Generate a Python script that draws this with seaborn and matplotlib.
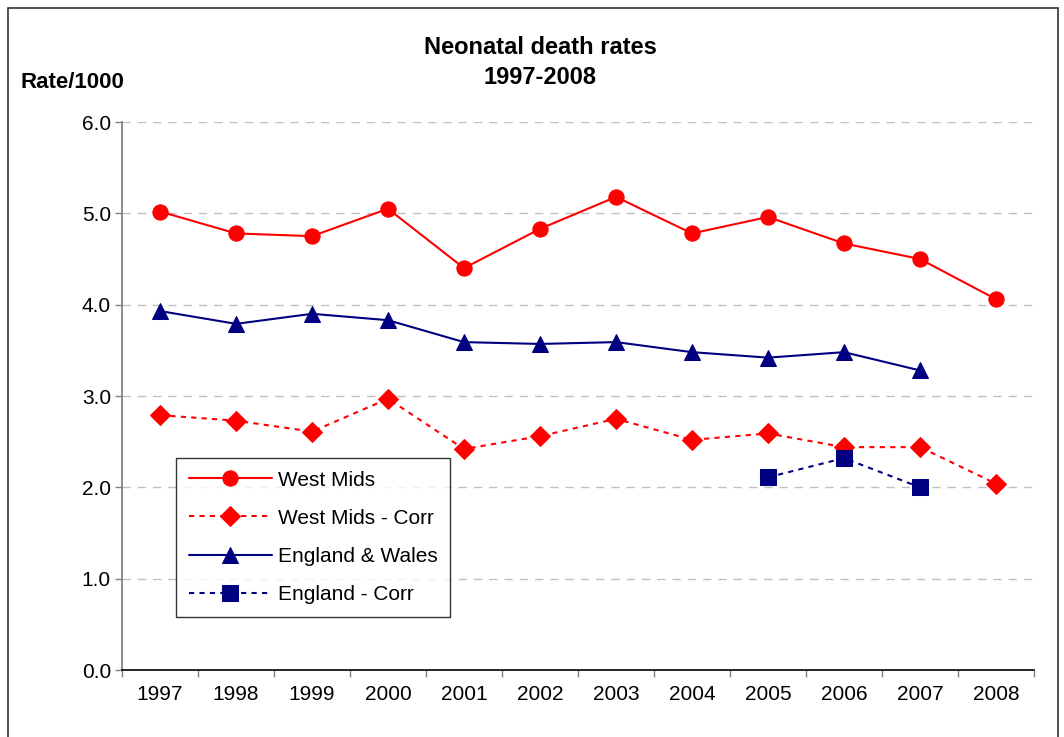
import numpy as np
import pandas as pd
import matplotlib
matplotlib.use('Agg')
import matplotlib.pyplot as plt
import seaborn as sns
from matplotlib.patches import Rectangle

years = ['1997', '1998', '1999', '2000', '2001', '2002', '2003', '2004', '2005', '2006', '2007', '2008']
west_mids = [5.02, 4.78, 4.75, 5.05, 4.40, 4.83, 5.18, 4.78, 4.96, 4.67, 4.50, 4.06]
west_mids_corr = [2.79, 2.73, 2.61, 2.97, 2.42, 2.56, 2.75, 2.52, 2.59, 2.44, 2.44, 2.04]
eng_wales = [3.93, 3.79, 3.90, 3.83, 3.59, 3.57, 3.59, 3.48, 3.42, 3.48, 3.28, np.nan]
eng_corr = [np.nan] * 8 + [2.11, 2.32, 2.00, np.nan]

sns.set_theme(style='white')
plt.rcParams['font.family'] = ['Liberation Sans', 'DejaVu Sans']
plt.rcParams['text.color'] = 'black'
plt.rcParams['xtick.color'] = 'black'
plt.rcParams['ytick.color'] = 'black'

fig = plt.figure(figsize=(10.64, 7.37), dpi=100)
ax = fig.add_axes([122 / 1064, 67 / 737, 912 / 1064, 548 / 737])

x = np.arange(len(years))
series = [
    ('West Mids', west_mids, '#FF0000', '-', 'o', 11),
    ('West Mids - Corr', west_mids_corr, '#FF0000', (0, (2.5, 2.5)), 'D', 10),
    ('England & Wales', eng_wales, '#000080', '-', '^', 12),
    ('England - Corr', eng_corr, '#000080', (0, (2.5, 2.5)), 's', 11),
]
for name, vals, col, ls, mk, ms in series:
    df = pd.DataFrame({'x': x, 'y': vals}).dropna()
    sns.lineplot(data=df, x='x', y='y', ax=ax, color=col, linestyle=ls, marker=mk,
                 markersize=ms, markeredgecolor=col, linewidth=1.5, label=name)

ax.set_xlim(-0.5, len(years) - 0.5)
ax.set_ylim(0, 6)
ax.set_yticks(np.arange(0, 6.1, 1.0))
ax.set_yticklabels([f'{v:.1f}' for v in np.arange(0, 6.1, 1.0)], fontsize=15)
ax.set_xticks(np.arange(-0.5, len(years)), minor=False)
ax.set_xticklabels([])
ax.set_xticks(x, minor=True)
ax.set_xticklabels(years, minor=True, fontsize=15)
ax.tick_params(axis='x', which='major', length=5, width=1, color='#808080', direction='out', bottom=True)
ax.tick_params(axis='x', which='minor', length=0, pad=11)
ax.tick_params(axis='y', length=5, width=1, color='#808080', direction='out', left=True, pad=3)
ax.yaxis.grid(True, color='#c0c0c0', linestyle=(0, (6, 5)), linewidth=1)
ax.set_axisbelow(True)
for s in ['top', 'right']:
    ax.spines[s].set_visible(False)
ax.spines['left'].set_color('#808080')
ax.spines['bottom'].set_color('black')
ax.spines['bottom'].set_linewidth(1.2)
ax.set_xlabel('')
ax.set_ylabel('')

leg = ax.legend(loc='upper left', bbox_to_anchor=(54 / 912, (670 - 458) / 548), fontsize=15,
                frameon=True, fancybox=False, edgecolor='black', handlelength=4.0,
                labelspacing=0.92, borderpad=0.6, handletextpad=0.3, borderaxespad=0)
leg.get_frame().set_linewidth(1)
for t in leg.get_texts():
    t.set_color('black')

fig.text(540 / 1064, 1 - 47 / 737, 'Neonatal death rates', ha='center', va='center',
         fontsize=17, fontweight='bold')
fig.text(540 / 1064, 1 - 77 / 737, '1997-2008', ha='center', va='center',
         fontsize=17, fontweight='bold')
fig.text(20 / 1064, 1 - 82 / 737, 'Rate/1000', ha='left', va='center', fontsize=16, fontweight='bold')

fig.patches.append(Rectangle((8 / 1064, -0.01), 1050 / 1064, 1 - 8 / 737 + 0.01,
                             transform=fig.transFigure, fill=False, edgecolor='#333333', linewidth=1.2))

fig.savefig('out.png', dpi=100)
